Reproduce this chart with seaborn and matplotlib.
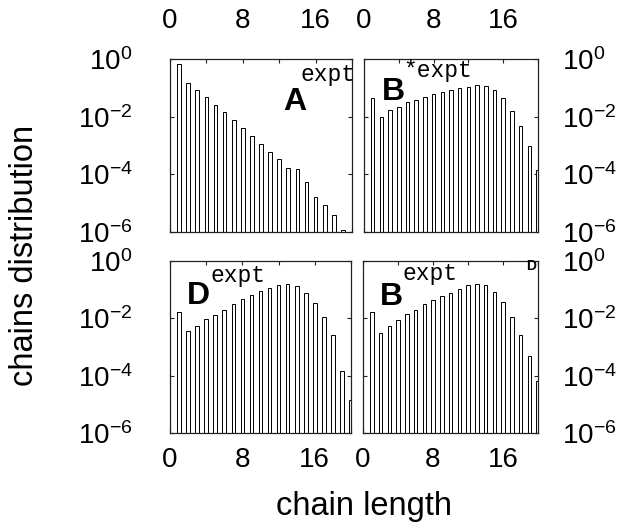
import matplotlib
matplotlib.use("Agg")
import matplotlib.pyplot as plt
import seaborn as sns
import pandas as pd

# chain length (number of monomers) for each bar
chain_len = list(range(1, 21))

# chain-length distributions for the four panels
dist_A = [0.68, 0.145, 0.083, 0.047, 0.026, 0.015, 0.0079, 0.0042, 0.0022, 0.0011,
          5.8e-4, 3.4e-4, 1.7e-4, 1.5e-4, 5.5e-5, 1.7e-5, 8.9e-6, 3.8e-6, 1.2e-6]
dist_B_top = [0.046, 0.010, 0.017, 0.022, 0.031, 0.038, 0.048, 0.059, 0.069, 0.083,
              0.095, 0.107, 0.123, 0.117, 0.081, 0.044, 0.016, 0.0048, 9.5e-4, 1.4e-4]
dist_D = [0.017, 0.0036, 0.0056, 0.0098, 0.013, 0.020, 0.032, 0.046, 0.063, 0.087,
          0.112, 0.151, 0.162, 0.135, 0.078, 0.034, 0.0107, 0.0026, 1.45e-4, 1.45e-5]
dist_B_bot = [0.017, 0.0032, 0.0055, 0.0091, 0.0138, 0.020, 0.032, 0.045, 0.059, 0.079,
              0.107, 0.145, 0.162, 0.148, 0.083, 0.036, 0.0112, 0.0026, 4.7e-4, 6.3e-5]

x_ticks = [0, 4, 8, 12, 16, 20]
x_ticklabels = ["0", "", "8", "", "16", ""]
y_ticks = [1e-6, 1e-4, 1e-2, 1e0]

sns.set_style("ticks")
plt.rcParams["font.family"] = ["Liberation Sans", "DejaVu Sans"]
plt.rcParams["text.color"] = "black"
plt.rcParams["mathtext.fontset"] = "custom"
plt.rcParams["mathtext.rm"] = "Liberation Sans"
plt.rcParams["mathtext.it"] = "Liberation Sans:italic"
plt.rcParams["mathtext.bf"] = "Liberation Sans:bold"

W, H = 636, 529
fig = plt.figure(figsize=(W / 100, H / 100), dpi=100)


def rect(x0, y0, x1, y1):
    return [x0 / W, (H - y1) / H, (x1 - x0) / W, (y1 - y0) / H]


panels = [
    (rect(170, 59, 352, 232), dist_A, "top", "left"),
    (rect(364, 59, 538, 232), dist_B_top, "top", "right"),
    (rect(170, 261, 351, 433), dist_D, "bottom", "left"),
    (rect(363, 261, 538, 433), dist_B_bot, "bottom", "right"),
]

for pos, values, xside, yside in panels:
    ax = fig.add_axes(pos)
    df = pd.DataFrame({"length": chain_len[:len(values)], "dist": values})
    sns.barplot(data=df, x="length", y="dist", native_scale=True,
                width=0.4, color="white", saturation=1,
                edgecolor="black", linewidth=0.7, ax=ax)
    ax.set_yscale("log")
    ax.set_xlim(0, 20)
    ax.set_ylim(1e-6, 1)
    ax.set_xticks(x_ticks)
    ax.set_xticklabels(x_ticklabels)
    ax.set_yticks(y_ticks)
    ax.minorticks_off()
    ax.set_xlabel("")
    ax.set_ylabel("")
    for sp in ax.spines.values():
        sp.set_linewidth(0.9)
        sp.set_color("#222222")
    ax.tick_params(direction="in", length=3, width=0.8, top=True, right=True,
                   bottom=True, left=True, labelsize=20, colors="#222222",
                   labelcolor="black")
    if xside == "top":
        ax.tick_params(axis="x", labeltop=True, labelbottom=False, pad=18)
    else:
        ax.tick_params(axis="x", labeltop=False, labelbottom=True, pad=10)
    if yside == "left":
        ax.tick_params(axis="y", labelleft=True, labelright=False, pad=27)
    else:
        ax.tick_params(axis="y", labelleft=False, labelright=True, pad=17)


def ftxt(x, y, s, **kw):
    fig.text(x / W, (H - y) / H, s, va="baseline", ha="left", color="black", **kw)


mono = dict(family=["Liberation Mono", "DejaVu Sans Mono"], fontsize=16.5)
bold = dict(fontsize=23, fontweight="bold")

# panel A
ftxt(300, 81, "expt", **mono)
ftxt(283, 110, "A", **bold)
# panel B (top)
ftxt(403, 77, "*expt", **mono)
ftxt(382, 100, "B", **bold)
# panel D
ftxt(210, 282, "expt", **mono)
ftxt(187, 304, "D", **bold)
# panel B (bottom)
ftxt(402, 280, "expt", **mono)
ftxt(380, 305, "B", **bold)
ftxt(526, 270, "D", fontsize=10, fontweight="bold")

fig.text(25 / W, (H - 255) / H, "chains distribution", rotation=90,
         ha="center", va="center", fontsize=23.5, color="black")
fig.text(364 / W, (H - 515) / H, "chain length", ha="center", va="baseline",
         fontsize=23.5, color="black")

fig.savefig("out.png", dpi=100)
